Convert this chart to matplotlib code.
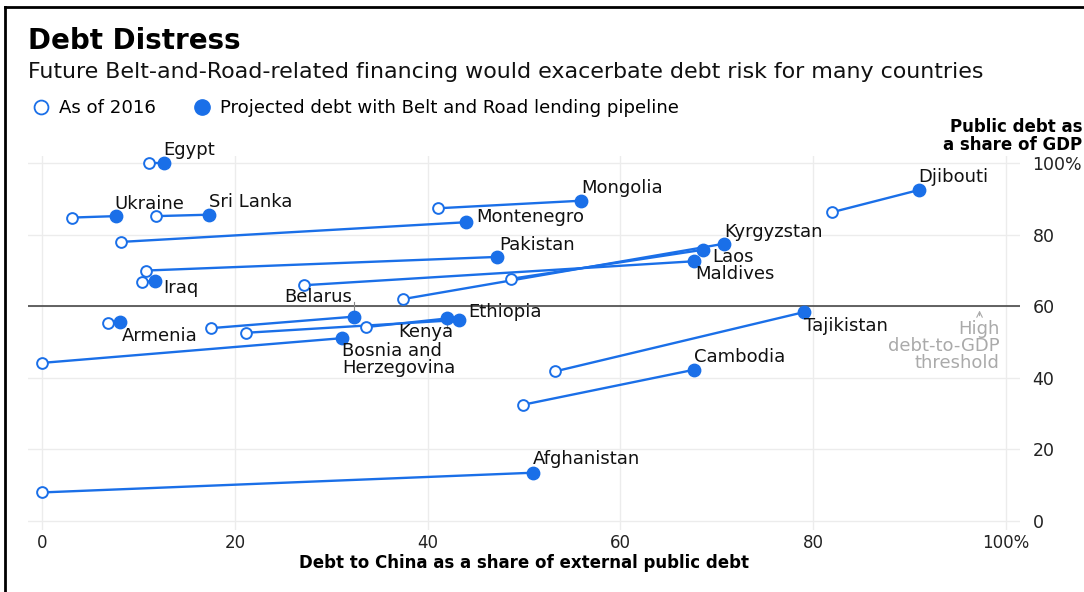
import numpy as np
import matplotlib
matplotlib.use("Agg")
import matplotlib.pyplot as plt
from matplotlib.lines import Line2D

# data: debt to China (% of external public debt) and public debt (% of GDP)
countries = ["Egypt", "Ukraine", "Sri Lanka", "Mongolia", "Montenegro", "Djibouti",
             "Pakistan", "Kyrgyzstan", "Laos", "Maldives", "Iraq", "Belarus",
             "Armenia", "Kenya", "Ethiopia", "Bosnia and\nHerzegovina", "Tajikistan",
             "Cambodia", "Afghanistan"]
china_2016 = [11.1, 3.1, 11.8, 41.1, 8.2, 82.0, 10.8, 37.4, 48.7, 27.2, 10.3, 17.5,
              6.8, 33.6, 21.1, 0.0, 53.2, 49.9, 0.0]
gdp_2016 = [100.0, 84.8, 85.2, 87.4, 78.0, 86.3, 70.0, 62.0, 67.7, 65.9, 66.9, 53.9,
            55.3, 54.2, 52.6, 44.2, 41.8, 32.5, 8.0]
china_proj = [12.6, 7.6, 17.3, 55.9, 44.0, 91.0, 47.2, 70.8, 68.6, 67.7, 11.7, 32.3,
              8.1, 42.0, 43.3, 31.1, 79.1, 67.7, 50.9]
gdp_proj = [100.0, 85.2, 85.6, 89.5, 83.5, 92.5, 73.8, 77.5, 75.8, 72.6, 67.0, 57.1,
            55.5, 56.6, 56.2, 51.1, 58.4, 42.3, 13.5]

x_ticks = [0, 20, 40, 60, 80, 100]
x_ticklabels = ["0", "20", "40", "60", "80", "100%"]
y_ticks = [0, 20, 40, 60, 80, 100]
y_ticklabels = ["0", "20", "40", "60", "80", "100%"]
threshold = 60

# label placement relative to the projected point (ha, dx, dy)
label_pos = {
    "Egypt": ("left", -0.1, 3.7), "Ukraine": ("left", -0.1, 3.5),
    "Sri Lanka": ("left", 0.0, 3.5), "Mongolia": ("left", 0.0, 3.5),
    "Montenegro": ("left", 1.0, 1.5), "Djibouti": ("left", -0.1, 3.5),
    "Pakistan": ("left", 0.2, 3.4), "Kyrgyzstan": ("left", 0.0, 3.4),
    "Laos": ("left", 0.9, -2.0), "Maldives": ("left", 0.1, -3.6),
    "Iraq": ("left", 0.8, -2.0), "Belarus": ("center", -3.7, 5.6),
    "Armenia": ("left", 0.1, -3.8), "Kenya": ("center", -2.2, -3.8),
    "Ethiopia": ("left", 0.9, 2.1), "Bosnia and\nHerzegovina": ("left", 0.0, -6.0),
    "Tajikistan": ("left", 0.0, -3.8), "Cambodia": ("left", -0.1, 3.6),
    "Afghanistan": ("left", 0.0, 3.9),
}

blue = "#1a6fe8"
W, H = 1084, 592

fig = plt.figure(figsize=(W / 100, H / 100), dpi=100)
ax = fig.add_axes([28 / W, 1 - 530 / H, 992 / W, 374 / H])
ax.set_xlim(-1.5, 101.5)
ax.set_ylim(-2.5, 102)

for s in ax.spines.values():
    s.set_visible(False)
ax.set_xticks(x_ticks)
ax.set_xticklabels(x_ticklabels)
ax.set_yticks(y_ticks)
ax.set_yticklabels(y_ticklabels)
ax.yaxis.tick_right()
ax.tick_params(axis="both", length=0, labelsize=12.5, colors="#222222")
ax.tick_params(axis="y", pad=9)
ax.tick_params(axis="x", pad=3, labelsize=12)
ax.grid(True, color="#ececec", lw=1)
ax.set_axisbelow(True)

ax.axhline(threshold, color="#555555", lw=1.3, zorder=1)

for i, name in enumerate(countries):
    ax.plot([china_2016[i], china_proj[i]], [gdp_2016[i], gdp_proj[i]],
            color=blue, lw=1.7, zorder=2, solid_capstyle="round")
ax.scatter(china_2016, gdp_2016, s=60, facecolor="white", edgecolor=blue,
           linewidth=1.4, zorder=3)
ax.scatter(china_proj, gdp_proj, s=80, color=blue, zorder=4)

for i, name in enumerate(countries):
    ha, dx, dy = label_pos[name]
    ax.text(china_proj[i] + dx, gdp_proj[i] + dy, name, ha=ha, va="center",
            fontsize=13, color="#111111", linespacing=0.92, zorder=5)

# small leader ticks for Belarus and Kenya
bi = countries.index("Belarus")
ax.plot([china_proj[bi]] * 2, [gdp_proj[bi] + 1.4, gdp_proj[bi] + 4.0], color="#888888", lw=0.8)
ki = countries.index("Kenya")
ax.plot([china_proj[ki]] * 2, [gdp_proj[ki] - 1.2, gdp_proj[ki] - 2.6], color="#888888", lw=0.8)

ax.text(99.4, 48.9, "High\ndebt-to-GDP\nthreshold", ha="right", va="center",
        fontsize=13, color="#aaaaaa", linespacing=0.92)
ax.annotate("", xy=(97.3, 59.6), xytext=(97.3, 56.6),
            arrowprops=dict(arrowstyle="->", color="#aaaaaa", lw=0.8))

# titles
fig.text(28 / W, 1 - 41 / H, "Debt Distress", fontsize=20, fontweight="bold",
         va="center", ha="left")
fig.text(28 / W, 1 - 72 / H,
         "Future Belt-and-Road-related financing would exacerbate debt risk for many countries",
         fontsize=15.9, va="center", ha="left", color="#111111")
fig.text(1082 / W, 1 - 136 / H, "Public debt as\na share of GDP", fontsize=12,
         fontweight="bold", ha="right", va="center", linespacing=1.0)
fig.text(524 / W, 1 - 563 / H, "Debt to China as a share of external public debt",
         fontsize=12, fontweight="bold", ha="center", va="center")

handles = [Line2D([], [], ls="none", marker="o", markersize=10, markerfacecolor="white",
                  markeredgecolor=blue, markeredgewidth=1.3),
           Line2D([], [], ls="none", marker="o", markersize=11, color=blue)]
fig.legend(handles, ["As of 2016", "Projected debt with Belt and Road lending pipeline"],
           loc="center left", bbox_to_anchor=(32 / W, 1 - 108 / H), ncol=2,
           frameon=False, fontsize=13.1, handlelength=1.0, handletextpad=0.5,
           columnspacing=2.0, borderaxespad=0, borderpad=0)

# frame lines at top and left
fig.add_artist(Line2D([5 / W, 1], [1 - 7 / H] * 2, color="black", lw=2,
                      transform=fig.transFigure))
fig.add_artist(Line2D([5 / W] * 2, [0, 1 - 7 / H], color="black", lw=2,
                      transform=fig.transFigure))

fig.savefig("out.png", dpi=100)
